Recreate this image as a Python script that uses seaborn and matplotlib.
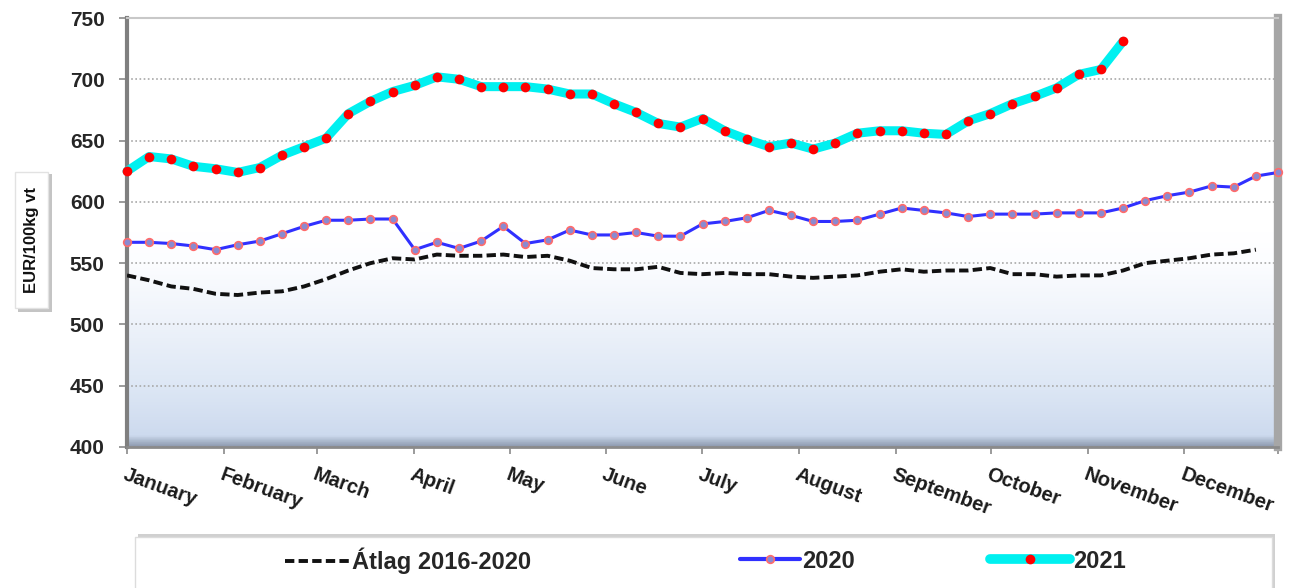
import numpy as np
import pandas as pd
import matplotlib
matplotlib.use("Agg")
import matplotlib.pyplot as plt
import seaborn as sns
from matplotlib.colors import LinearSegmentedColormap
from matplotlib.patches import Rectangle
from matplotlib.lines import Line2D

# =========================================
# DATA (EUR/100kg vt, weekly)
# =========================================

months = ["January", "February", "March", "April", "May", "June", "July",
          "August", "September", "October", "November", "December"]

avg_2016_2020 = [540, 536, 531, 529, 525, 524, 526, 527, 531, 537, 544, 550, 554,
                 553, 557, 556, 556, 557, 555, 556, 552, 546, 545, 545, 547, 542,
                 541, 542, 541, 541, 539, 538, 539, 540, 543, 545, 543, 544, 544,
                 546, 541, 541, 539, 540, 540, 544, 550, 552, 554, 557, 558, 561]

y2020 = [567, 567, 566, 564, 561, 565, 568, 574, 580, 585, 585, 586, 586, 561,
         567, 562, 568, 580, 566, 569, 577, 573, 573, 575, 572, 572, 582, 584,
         587, 593, 589, 584, 584, 585, 590, 595, 593, 591, 588, 590, 590, 590,
         591, 591, 591, 595, 601, 605, 608, 613, 612, 621, 624]

y2021 = [625, 637, 635, 629, 627, 624, 628, 638, 645, 652, 672, 682, 690, 695,
         702, 700, 694, 694, 694, 692, 688, 688, 680, 673, 664, 661, 668, 658,
         651, 645, 648, 643, 648, 656, 658, 658, 656, 655, 666, 672, 680, 686,
         693, 704, 708, 731]

legend_labels = ["Átlag 2016-2020", "2020", "2021"]
y_label = "EUR/100kg vt"

# month boundaries in week units
month_edges = [0, 4.38, 8.58, 12.96, 17.3, 21.63, 25.97, 30.35, 34.73,
               39.02, 43.4, 47.77, 52]

# =========================================
# PLOT
# =========================================

sns.set_theme(style="white")
plt.rcParams["font.family"] = ["Liberation Sans", "DejaVu Sans"]

W, H = 1294, 588
fig = plt.figure(figsize=(W / 100, H / 100), dpi=100)
ax = fig.add_axes([127 / W, 1 - 447 / H, (1278 - 127) / W, (447 - 18) / H])

# background gradient
cmap = LinearSegmentedColormap.from_list("bg", [
    (0.0, "#8f9bb0"), (0.012, "#aab8cc"), (0.025, "#cddaee"), (0.14, "#dde7f5"),
    (0.28, "#edf2fa"), (0.43, "#fcfdff"), (0.5, "#ffffff"), (1.0, "#ffffff")])
grad = np.linspace(0, 1, 256).reshape(-1, 1)
ax.imshow(grad, extent=[0, 52, 400, 750], origin="lower", aspect="auto",
          cmap=cmap, zorder=0)

df_avg = pd.DataFrame({"week": np.arange(len(avg_2016_2020)), "v": avg_2016_2020})
df20 = pd.DataFrame({"week": np.arange(len(y2020)), "v": y2020})
df21 = pd.DataFrame({"week": np.arange(len(y2021)), "v": y2021})

avg_style = dict(color="#111111", lw=2.8, linestyle=(0, (2.4, 1.1)))
s20_style = dict(color="#3030ff", lw=2.2, marker="o", markersize=5.5,
                 markerfacecolor="#8a8ad0", markeredgecolor="#ff6b6b",
                 markeredgewidth=1.2)
s21_style = dict(color="#00f0f0", lw=6.5, marker="o", markersize=7,
                 markerfacecolor="#ff0000", markeredgecolor="#ff0000",
                 markeredgewidth=0)

sns.lineplot(data=df_avg, x="week", y="v", ax=ax, zorder=3, **avg_style)
sns.lineplot(data=df20, x="week", y="v", ax=ax, zorder=4, clip_on=False, **s20_style)
sns.lineplot(data=df21, x="week", y="v", ax=ax, zorder=5, clip_on=False, **s21_style)

ax.set_xlim(0, 52)
ax.set_ylim(400, 750)
ax.set_yticks(range(400, 751, 50))
ax.yaxis.grid(True, linestyle=(0, (1, 1.5)), color="#a8a8a8", lw=1.2)
ax.xaxis.grid(False)

ax.set_xticks(month_edges)
ax.set_xticklabels(months + [""], rotation=-20, ha="left", va="top",
                   rotation_mode="anchor")
ax.tick_params(axis="x", length=5, width=1.2, color="#8a8a8a", pad=8,
               labelsize=14.5, bottom=True, labelcolor="#1a1a1a")
ax.tick_params(axis="y", length=6, width=1.2, color="#8a8a8a", pad=10,
               labelsize=15, left=True, labelcolor="#262626")
for lbl in ax.get_xticklabels() + ax.get_yticklabels():
    lbl.set_fontweight("bold")

ax.set_xlabel("")
ax.set_ylabel("")

for side, col, w in [("left", "#7f7f7f", 3), ("bottom", "#8a8a8a", 2),
                     ("top", "#c8c8c8", 1.5), ("right", "#a6a6a6", 6)]:
    ax.spines[side].set_visible(True)
    ax.spines[side].set_color(col)
    ax.spines[side].set_linewidth(w)

# y label in a box with shadow
fig.patches.append(Rectangle((18 / W, 1 - 312 / H), 34 / W, 138 / H,
                             transform=fig.transFigure, fc="#c4c4c4", ec="none",
                             zorder=0))
fig.patches.append(Rectangle((15 / W, 1 - 308 / H), 33 / W, 136 / H,
                             transform=fig.transFigure, fc="white", ec="#e2e2e2",
                             lw=1, zorder=1))
fig.text(31.5 / W, 1 - 240 / H, y_label, rotation=90, ha="center",
         va="center", fontsize=12, fontweight="bold", color="#111111")

# legend box
fig.patches.append(Rectangle((138 / W, -0.05), 1137 / W, 1 - 534 / H + 0.05,
                             transform=fig.transFigure, fc="#d0d0d0", ec="none",
                             zorder=0))
fig.patches.append(Rectangle((135 / W, -0.05), 1137 / W, 1 - 537 / H + 0.05,
                             transform=fig.transFigure, fc="white", ec="#dcdcdc",
                             lw=1, zorder=1))

handles = [
    Line2D([], [], **avg_style),
    Line2D([], [], **{**s20_style, "lw": 3}),
    Line2D([], [], **{**s21_style, "lw": 7}),
]
# entries placed one by one: (handle start x, handle length)
for h, lab, x0, hl in zip(handles, legend_labels, [285, 740, 990], [2.75, 2.55, 3.4]):
    fig.legend([h], [lab], loc="center left", bbox_to_anchor=(x0 / W, 1 - 561 / H),
               frameon=False, borderpad=0, borderaxespad=0, handlelength=hl,
               handletextpad=0.1, prop={"weight": "bold", "size": 17})

fig.savefig("out.png", dpi=100)
